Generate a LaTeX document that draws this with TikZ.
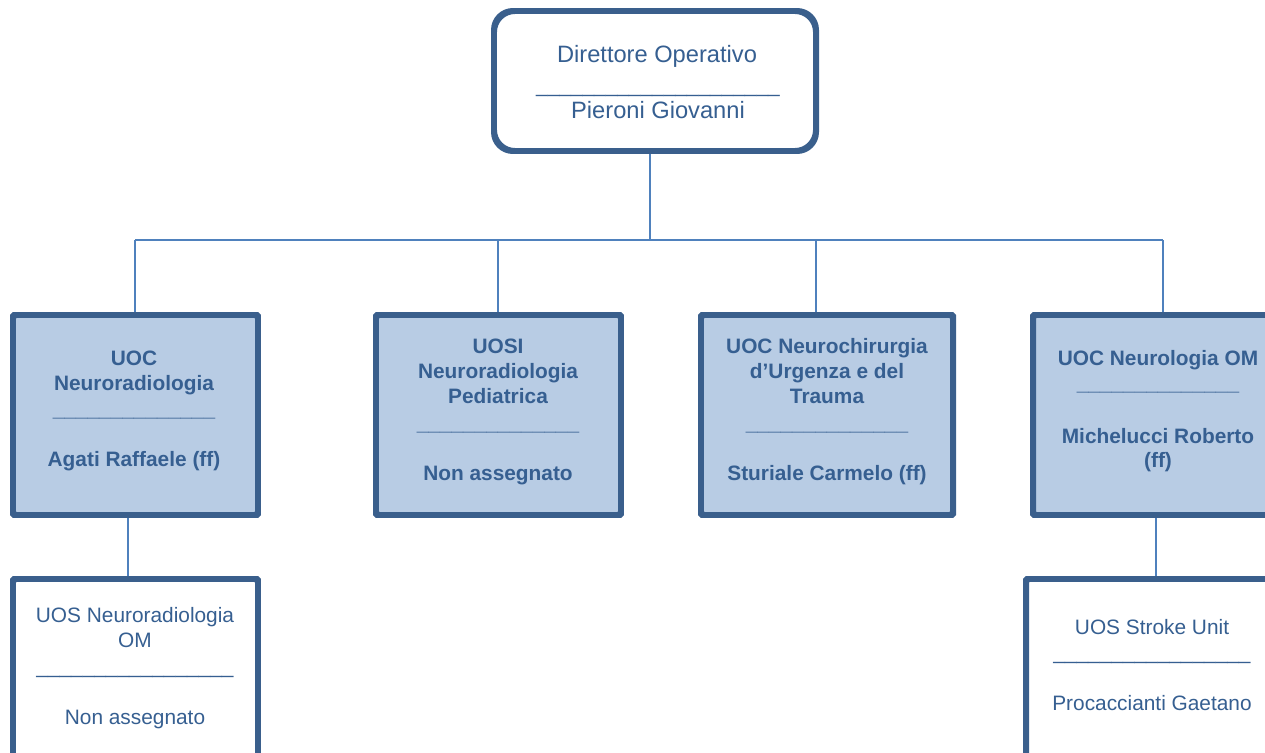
\documentclass[tikz,border=0pt]{standalone}
\usepackage{fontspec}
\setmainfont{Liberation Sans}
\definecolor{bordc}{RGB}{58,95,140}
\definecolor{connc}{RGB}{79,129,189}
\definecolor{txtc}{RGB}{54,95,145}
\definecolor{fillc}{RGB}{184,204,228}
\newcommand\usc[1]{\foreach \i in {1,...,#1}{\_}}
\begin{document}
\begin{tikzpicture}[x=0.03cm,y=-0.03cm,
  conn/.style={draw=connc,line width=2.3pt},
  boxline/.style={draw=bordc,line width=3.4pt},
  topbox/.style={boxline,fill=white,rounded corners=17pt,minimum width=9.6cm,minimum height=4.14cm,inner sep=0},
  unitbox/.style={boxline,fill=fillc,rounded corners=1.5pt,minimum height=5.94cm,inner sep=0},
  subbox/.style={boxline,fill=white,rounded corners=1.5pt,minimum height=6.6cm,inner sep=0},
  txt/.style={anchor=base,text=txtc,inner sep=0,font=\fontsize{17.8}{21}\selectfont},
  toptxt/.style={txt,font=\fontsize{20.2}{24}\selectfont},
  btxt/.style={txt,font=\fontsize{17.8}{21}\selectfont\bfseries}]
\useasboundingbox (0,0) rectangle (1265,752);
\clip (0,0) rectangle (1265,752);
% boxes
\node[topbox] (top) at (655,81) {};
\node[unitbox,minimum width=7.29cm] (b1) at (135.5,415) {};
\node[unitbox,minimum width=7.29cm] (b2) at (498.5,415) {};
\node[unitbox,minimum width=7.5cm] (b3) at (827,415) {};
\node[unitbox,minimum width=7.98cm] (b4) at (1167,415) {};
\node[subbox,minimum width=7.29cm] (s1) at (135.5,690) {};
\node[subbox,minimum width=8.19cm] (s4) at (1163.5,690) {};
% connectors
\coordinate (j0) at (650,240);
\coordinate (bl) at (135,240);
\coordinate (br) at (1163,240);
\coordinate (d2) at (498,240);
\coordinate (d3) at (816,240);
\coordinate (u1) at (128,514);
\coordinate (u4) at (1156,514);
\draw[conn] (j0 |- top.south) -- (j0);
\draw[conn] (bl) -- (br);
\draw[conn] (bl) -- (bl |- b1.north);
\draw[conn] (d2) -- (d2 |- b2.north);
\draw[conn] (d3) -- (d3 |- b3.north);
\draw[conn] (br) -- (br |- b4.north);
\draw[conn] (u1 |- b1.south) -- (u1 |- s1.north);
\draw[conn] (u4 |- b4.south) -- (u4 |- s4.north);
% redraw box borders over connector ends
\draw[boxline,rounded corners=17pt] (top.north west) rectangle (top.south east);
\foreach \b in {b1,b2,b3,b4,s1,s4}{\draw[boxline,rounded corners=1.5pt] (\b.north west) rectangle (\b.south east);}
% top text
\node[toptxt] (t0a) at (657,62) {Direttore Operativo};
\node[txt] (t0u) at (658,92) {\usc{21}};
\node[toptxt] (t0b) at (658,118) {Pieroni Giovanni};
% box 1
\node[btxt] (t1a) at (134,365.5) {UOC};
\node[btxt] (t1b) at (134,390.5) {Neuroradiologia};
\node[btxt] (t1u) at (134,416) {\usc{14}};
\node[btxt] (t1c) at (134,466.5) {Agati Raffaele (ff)};
% box 2
\node[btxt] (t2a) at (498,353) {UOSI};
\node[btxt] (t2b) at (498,378.5) {Neuroradiologia};
\node[btxt] (t2c) at (498,403.5) {Pediatrica};
\node[btxt] (t2u) at (498,430.5) {\usc{14}};
\node[btxt] (t2d) at (498,480) {Non assegnato};
% box 3
\node[btxt] (t3a) at (827,353) {UOC Neurochirurgia};
\node[btxt] (t3b) at (827,378.5) {d’Urgenza e del};
\node[btxt] (t3c) at (827,403.5) {Trauma};
\node[btxt] (t3u) at (827,430.5) {\usc{14}};
\node[btxt] (t3d) at (827,480) {Sturiale Carmelo (ff)};
% box 4
\node[btxt] (t4a) at (1158,365.5) {UOC Neurologia OM};
\node[btxt] (t4u) at (1158,390.5) {\usc{14}};
\node[btxt] (t4b) at (1158,443) {Michelucci Roberto};
\node[btxt] (t4c) at (1158,467.5) {(ff)};
% sub box 1
\node[txt] (s1a) at (135,622) {UOS Neuroradiologia};
\node[txt] (s1b) at (135,647) {OM};
\node[txt] (s1u) at (135,673) {\usc{17}};
\node[txt] (s1c) at (135,724) {Non assegnato};
% sub box 4
\node[txt] (s4a) at (1152,634) {UOS Stroke Unit};
\node[txt] (s4u) at (1152,659.5) {\usc{17}};
\node[txt] (s4b) at (1152,710.5) {Procaccianti Gaetano};
\end{tikzpicture}
\end{document}
